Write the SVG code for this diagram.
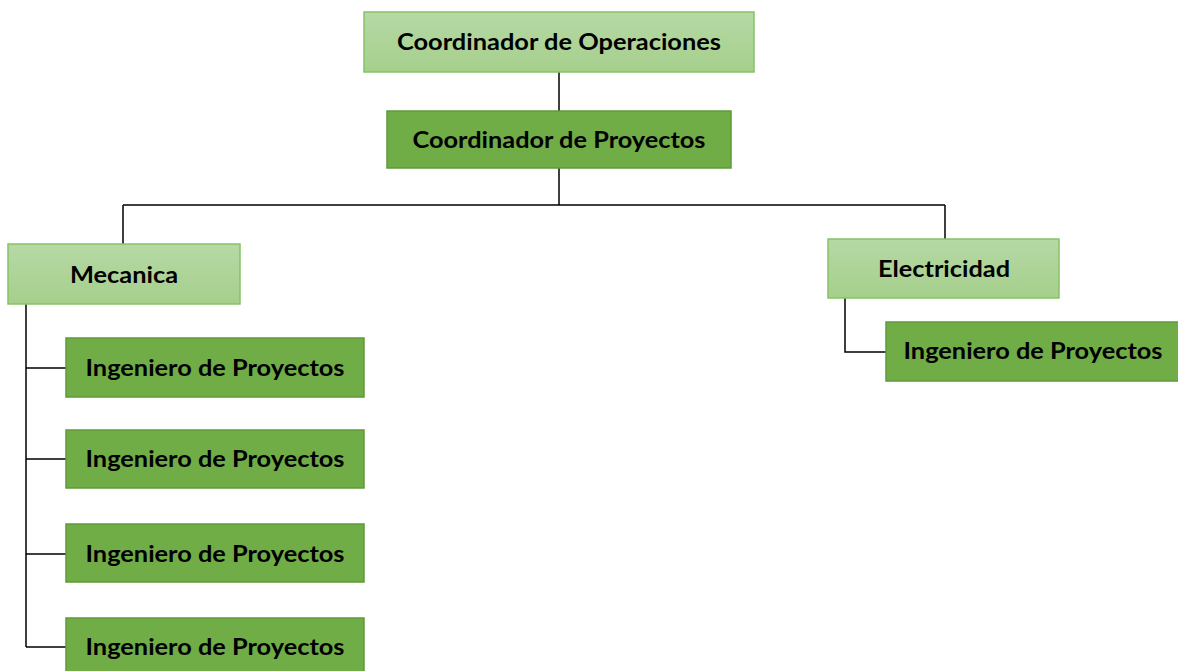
<svg xmlns="http://www.w3.org/2000/svg" width="1178" height="671" viewBox="0 0 1178 671">
<defs>
<linearGradient id="lg" x1="0" y1="0" x2="0" y2="1">
<stop offset="0" stop-color="#b6d9a5"/>
<stop offset="1" stop-color="#a6cf8c"/>
</linearGradient>
</defs>
<style>
.light{fill:url(#lg);stroke:#86c265;stroke-width:1.5}
.dark{fill:#70ad47;stroke:#5f9a3a;stroke-width:1.5}
.t{font-family:Lato,"Open Sans",sans-serif;font-weight:700;font-size:22px;fill:#000;text-anchor:middle}
.c{fill:none;stroke:#000;stroke-width:1.5}
</style>
<rect width="1178" height="671" fill="#fff"/>
<g id="connectors">
<path class="c" d="M559 72V111M559 168V205M123 205H945M123 205V244M945 205V239"/>
<path class="c" d="M26 304V647M26 368H66M26 459H66M26 554H66M26 647H66"/>
<path class="c" d="M845 298V352H886"/>
</g>
<g id="n-coord-op"><rect class="light" x="364" y="12" width="390" height="60"/><text class="t" x="559" y="50" textLength="324" lengthAdjust="spacingAndGlyphs">Coordinador de Operaciones</text></g>
<g id="n-coord-proy"><rect class="dark" x="387" y="111" width="344" height="57"/><text class="t" x="559" y="148" textLength="293" lengthAdjust="spacingAndGlyphs">Coordinador de Proyectos</text></g>
<g id="n-mecanica"><rect class="light" x="8" y="244" width="232" height="60"/><text class="t" x="124" y="283" textLength="108" lengthAdjust="spacingAndGlyphs">Mecanica</text></g>
<g id="n-electricidad"><rect class="light" x="828" y="239" width="231" height="59"/><text class="t" x="944" y="277" textLength="132" lengthAdjust="spacingAndGlyphs">Electricidad</text></g>
<g id="n-ing1"><rect class="dark" x="66" y="338" width="298" height="59"/><text class="t" x="215" y="376" textLength="259" lengthAdjust="spacingAndGlyphs">Ingeniero de Proyectos</text></g>
<g id="n-ing2"><rect class="dark" x="66" y="430" width="298" height="58"/><text class="t" x="215" y="467" textLength="259" lengthAdjust="spacingAndGlyphs">Ingeniero de Proyectos</text></g>
<g id="n-ing3"><rect class="dark" x="66" y="524" width="298" height="58"/><text class="t" x="215" y="562" textLength="259" lengthAdjust="spacingAndGlyphs">Ingeniero de Proyectos</text></g>
<g id="n-ing4"><rect class="dark" x="66" y="618" width="298" height="60"/><text class="t" x="215" y="655" textLength="259" lengthAdjust="spacingAndGlyphs">Ingeniero de Proyectos</text></g>
<g id="n-ing5"><rect class="dark" x="886" y="322" width="296" height="59"/><text class="t" x="1033" y="359" textLength="259" lengthAdjust="spacingAndGlyphs">Ingeniero de Proyectos</text></g>
</svg>
